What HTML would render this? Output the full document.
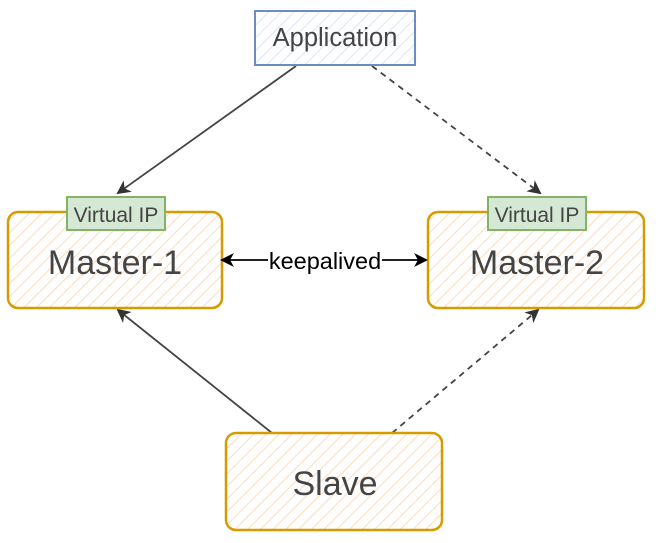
<!DOCTYPE html>
<html><head><meta charset="utf-8"><style>
html,body{margin:0;padding:0;background:#fff;}
svg{display:block;}
text{font-family:"Liberation Sans",sans-serif;}
</style></head><body>
<svg width="656" height="543" viewBox="0 0 656 543" xmlns="http://www.w3.org/2000/svg">
<defs>
<pattern id="ho" width="9" height="9" patternUnits="userSpaceOnUse" patternTransform="rotate(45)">
<line x1="0" y1="0" x2="0" y2="9" stroke="#fcd3aa" stroke-width="1.6"/>
</pattern>
<pattern id="hb" width="9" height="9" patternUnits="userSpaceOnUse" patternTransform="rotate(45)">
<line x1="0" y1="0" x2="0" y2="9" stroke="#cfdff5" stroke-width="1.6"/>
</pattern>
<marker id="a" markerWidth="14" markerHeight="14" refX="12" refY="7" orient="auto" markerUnits="userSpaceOnUse">
<path d="M0,0 L14,7 L0,14 L4,7 z" fill="#333"/>
</marker>
<marker id="k" markerWidth="14" markerHeight="14" refX="12" refY="7" orient="auto" markerUnits="userSpaceOnUse">
<path d="M0,0 L14,7 L0,14 L4,7 z" fill="#000"/>
</marker>
</defs>
<line x1="296" y1="66" x2="118" y2="193" stroke="#444" stroke-width="1.8" marker-end="url(#a)"/>
<line x1="372" y1="66" x2="540" y2="193" stroke="#444" stroke-width="1.8" stroke-dasharray="6,5" marker-end="url(#a)"/>
<line x1="272" y1="433" x2="118" y2="310" stroke="#444" stroke-width="1.8" marker-end="url(#a)"/>
<line x1="392" y1="433" x2="538" y2="310" stroke="#444" stroke-width="1.8" stroke-dasharray="6,5" marker-end="url(#a)"/>
<rect x="255" y="11" width="160" height="54" fill="url(#hb)" stroke="#6c8ebf" stroke-width="2"/>
<text x="335" y="46" font-size="25.5" fill="#444" text-anchor="middle">Application</text>
<rect x="8" y="212" width="214" height="96" rx="10" fill="url(#ho)" stroke="#d79b00" stroke-width="2.5"/>
<text x="115" y="274" font-size="34" fill="#444" text-anchor="middle">Master-1</text>
<rect x="67" y="197" width="98" height="33" fill="#d5e8d4" stroke="#82b366" stroke-width="2"/>
<text x="116" y="222" font-size="21" fill="#444" text-anchor="middle">Virtual IP</text>
<rect x="428" y="212" width="216" height="96" rx="10" fill="url(#ho)" stroke="#d79b00" stroke-width="2.5"/>
<text x="537" y="274" font-size="34" fill="#444" text-anchor="middle">Master-2</text>
<rect x="488" y="197" width="98" height="33" fill="#d5e8d4" stroke="#82b366" stroke-width="2"/>
<text x="537" y="222" font-size="21" fill="#444" text-anchor="middle">Virtual IP</text>
<rect x="226" y="433" width="216" height="97" rx="10" fill="url(#ho)" stroke="#d79b00" stroke-width="2.5"/>
<text x="335" y="495" font-size="34" fill="#444" text-anchor="middle">Slave</text>
<line x1="268" y1="260" x2="222" y2="260" stroke="#000" stroke-width="1.8" marker-end="url(#k)"/>
<line x1="382" y1="260" x2="426" y2="260" stroke="#000" stroke-width="1.8" marker-end="url(#k)"/>
<text x="325" y="269" font-size="23.5" fill="#000" text-anchor="middle">keepalived</text>
</svg>
</body></html>
